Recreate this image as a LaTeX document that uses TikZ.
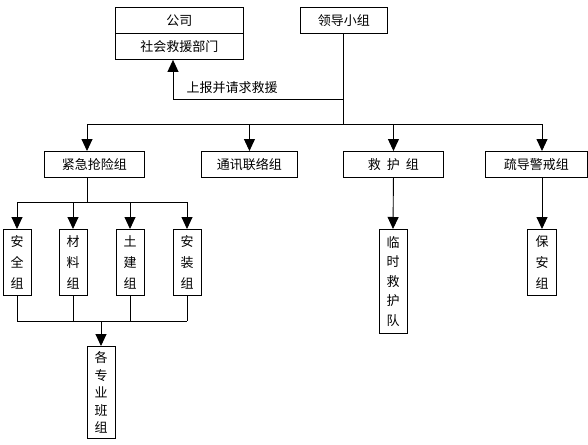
\documentclass[tikz,border=0pt]{standalone}
\usepackage{fontspec}
\newfontfamily\cjk{Noto Sans CJK SC}
\usetikzlibrary{arrows.meta}
\begin{document}
\begin{tikzpicture}[x=1pt,y=-1pt,
  box/.style={draw,line width=0.9pt,inner sep=0pt,font=\cjk\fontsize{13}{15}\selectfont},
  vbox/.style={draw,line width=0.9pt,inner sep=0pt,align=center,font=\cjk\fontsize{13}{#1}\selectfont},
  vbox/.default=21,
  conn/.style={line width=0.9pt},
  arr/.style={conn,-{Triangle[width=11pt,length=12pt]}}]
\useasboundingbox (0,0) rectangle (588,444);
% top
\node[box,minimum width=128,minimum height=26,anchor=north west] (gs) at (115,7) {公司};
\node[box,minimum width=128,minimum height=26,anchor=north west] (sh) at (115,33) {社会救援部门};
\node[box,minimum width=87,minimum height=26,anchor=north west] (ld) at (300,7) {领导小组};
\coordinate (bus) at (343,124);
\coordinate (rep) at (343,99);
\coordinate (repl) at (173,99);
\draw[conn] (ld.south -| bus) -- (bus);
\draw[arr] (rep) -- (repl) -- (sh.south -| repl);
\node[font=\cjk\fontsize{13}{15}\selectfont,anchor=west] (lbl) at (183,88) {上报并请求救援};
% second level
\node[box,minimum width=100,minimum height=26,anchor=north west] (jj) at (44,151) {紧急抢险组};
\node[box,minimum width=96,minimum height=26,anchor=north west] (tx) at (201,151) {通讯联络组};
\node[box,minimum width=100,minimum height=26,anchor=north west] (jh) at (343,151) {救\hspace{6pt}护\hspace{6pt}组};
\node[box,minimum width=102,minimum height=26,anchor=north west] (sd) at (485,151) {疏导警戒组};
\coordinate (b1) at (87,124);
\coordinate (b4) at (542,124);
\draw[conn] (b1) -- (b4);
\draw[arr] (b1) -- (b1 |- jj.north);
\draw[arr] (tx.north |- bus) -- (tx.north);
\draw[arr] (jh.north |- bus) -- (jh.north);
\draw[arr] (b4) -- (b4 |- sd.north);
% third level under jj
\node[vbox,minimum width=28,minimum height=66,anchor=north] (aq) at (17,229) {安\\全\\组};
\node[vbox,minimum width=28,minimum height=66,anchor=north] (cl) at (73,229) {材\\料\\组};
\node[vbox,minimum width=28,minimum height=66,anchor=north] (tj) at (130,229) {土\\建\\组};
\node[vbox,minimum width=28,minimum height=66,anchor=north] (az) at (187,229) {安\\装\\组};
\coordinate (m) at (87,202);
\draw[conn] (m |- jj.south) -- (m);
\draw[conn] (aq.north |- m) -- (az.north |- m);
\foreach \n in {aq,cl,tj,az} \draw[arr] (\n.north |- m) -- (\n.north);
\coordinate (lo) at (101,321);
\foreach \n in {aq,cl,tj,az} \draw[conn] (\n.south) -- (\n.south |- lo);
\draw[conn] (aq.south |- lo) -- (az.south |- lo);
\node[vbox=17.5,minimum width=28,minimum height=92,anchor=north] (gz) at (101,346) {各\\专\\业\\班\\组};
\draw[arr] (lo) -- (gz.north);
% under jh and sd
\node[vbox=19.5,minimum width=28,minimum height=104,anchor=north] (ls) at (393,229) {临\\时\\救\\护\\队};
\draw[arr] (jh.south) -- (ls.north);
\node[vbox,minimum width=29,minimum height=66,anchor=north] (ba) at (542,229) {保\\安\\组};
\draw[arr] (b4 |- sd.south) -- (ba.north);
\end{tikzpicture}
\end{document}
